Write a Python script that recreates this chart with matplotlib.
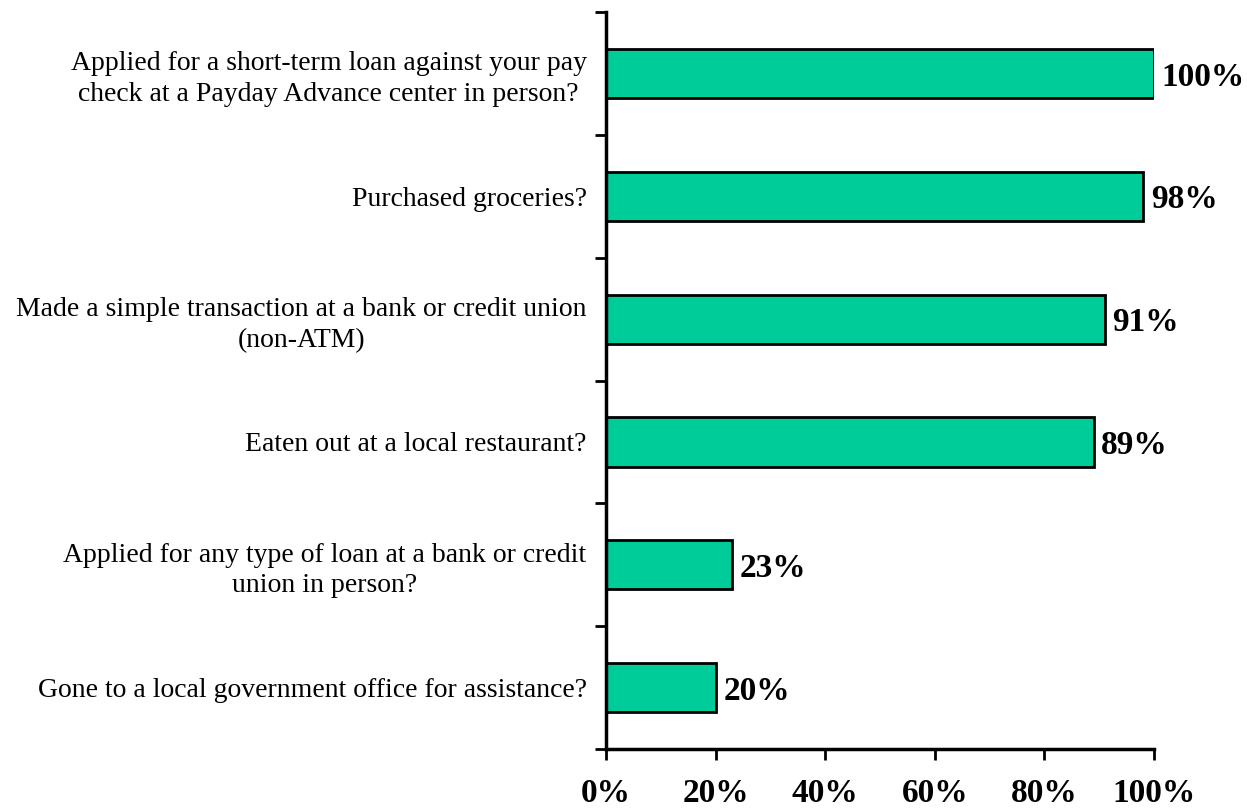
import matplotlib
matplotlib.use("Agg")
import matplotlib.pyplot as plt
from matplotlib.ticker import FixedLocator

# Survey responses: share of respondents who have done each activity
categories = [
    "Applied for a short-term loan against your pay\ncheck at a Payday Advance center in person?",
    "Purchased groceries?",
    "Made a simple transaction at a bank or credit union\n(non-ATM)",
    "Eaten out at a local restaurant?",
    "Applied for any type of loan at a bank or credit\nunion in person?",
    "Gone to a local government office for assistance?",
]
values = [100, 98, 91, 89, 23, 20]
x_ticks = [0, 20, 40, 60, 80, 100]
x_tick_labels = ["0%", "20%", "40%", "60%", "80%", "100%"]

plt.rcParams["font.family"] = ["Liberation Serif", "DejaVu Serif"]

fig = plt.figure(figsize=(12.47, 8.11), dpi=100)
ax = fig.add_axes([0.486, 0.0764, 0.4394, 0.9088])

n = len(categories)
positions = list(range(n))
ax.barh(positions, values, height=0.40, color="#00CC99",
        edgecolor="black", linewidth=2.0, zorder=2)

ax.set_xlim(0, 100)
ax.set_ylim(n - 0.5, -0.5)

# category labels placed at bar centres, ticks at category boundaries
ax.set_yticks(positions)
ax.set_yticklabels(categories, fontsize=20, ha="right", linespacing=1.3,
                   multialignment="center")
ax.tick_params(axis="y", which="major", length=0, pad=14)
ax.yaxis.set_minor_locator(FixedLocator([p - 0.5 for p in range(n + 1)]))
ax.tick_params(axis="y", which="minor", length=8, width=2, direction="out")

ax.set_xticks(x_ticks)
ax.set_xticklabels(x_tick_labels, fontsize=24, fontweight="bold")
ax.tick_params(axis="x", length=8, width=2, direction="out", pad=13)

for side in ("top", "right"):
    ax.spines[side].set_visible(False)
for side in ("left", "bottom"):
    ax.spines[side].set_linewidth(2.5)

for pos, val in zip(positions, values):
    ax.text(val + 1.4, pos + 0.03, f"{val}%", va="center", ha="left",
            fontsize=24, fontweight="bold", clip_on=False)

fig.savefig("out.png", dpi=100)
